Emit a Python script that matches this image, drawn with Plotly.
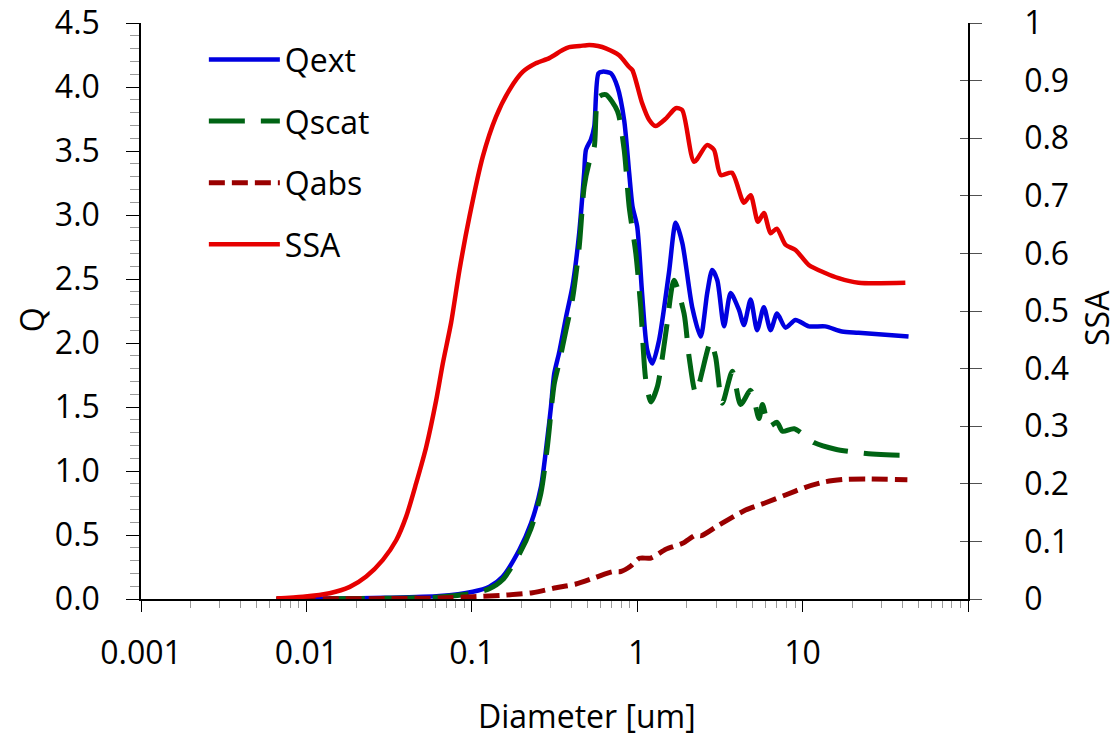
import plotly.graph_objects as go

# Particle diameter (um) and efficiencies for each series
d_qext = [0.0066, 0.015, 0.030, 0.0637, 0.1014, 0.1276, 0.1535, 0.1935, 0.228, 0.262,
          0.287, 0.301, 0.315, 0.338, 0.371, 0.407, 0.446, 0.478, 0.49, 0.525,
          0.55, 0.583, 0.617, 0.693, 0.76, 0.834, 0.894, 0.936, 1.0, 1.07,
          1.15, 1.235, 1.355, 1.556, 1.71, 1.875, 2.15, 2.42, 2.65, 2.84,
          3.05, 3.35, 3.67, 4.12, 4.42, 4.85, 5.31, 5.83, 6.4, 7.01,
          7.88, 9.06, 10.9, 13.7, 17.3, 21.8, 43.7]
qext = [0.000, 0.003, 0.009, 0.023, 0.057, 0.096, 0.174, 0.383, 0.591, 0.877,
        1.268, 1.50, 1.76, 1.93, 2.20, 2.45, 2.86, 3.33, 3.51, 3.59,
        3.69, 4.107, 4.12, 4.107, 4.0, 3.74, 3.33, 3.07, 2.91, 2.39,
        1.945, 1.84, 2.02, 2.55, 2.94, 2.78, 2.28, 2.05, 2.39, 2.57,
        2.49, 2.13, 2.39, 2.26, 2.14, 2.34, 2.10, 2.28, 2.10, 2.23,
        2.12, 2.18, 2.13, 2.13, 2.09, 2.08, 2.05]

d_qscat = [0.0066, 0.030, 0.0637, 0.1014, 0.1276, 0.1535, 0.1935, 0.228, 0.262, 0.287,
           0.315, 0.338, 0.371, 0.407, 0.446, 0.478, 0.51, 0.55, 0.583, 0.646,
           0.76, 0.834, 0.894, 0.981, 1.05, 1.127, 1.21, 1.325, 1.49, 1.67,
           1.92, 2.06, 2.26, 2.78, 2.98, 3.27, 3.76, 4.22, 4.85, 5.45,
           5.72, 6.28, 7.0, 7.56, 8.9, 11.8, 15.8, 19.9, 26.3, 34.7, 45.0]
qscat = [0.000, 0.005, 0.015, 0.045, 0.08, 0.15, 0.35, 0.55, 0.83, 1.20,
         1.68, 1.85, 2.10, 2.35, 2.75, 3.22, 3.40, 3.53, 3.92, 3.94,
         3.81, 3.51, 3.065, 2.70, 2.28, 1.71, 1.54, 1.66, 2.08, 2.49,
         2.23, 1.89, 1.61, 2.01, 1.89, 1.53, 1.78, 1.52, 1.63, 1.41,
         1.52, 1.35, 1.38, 1.31, 1.33, 1.22, 1.17, 1.15, 1.133, 1.125, 1.123]

d_qabs = [0.0066, 0.030, 0.0637, 0.1014, 0.161, 0.233, 0.323, 0.426, 0.563, 0.708,
          0.796, 0.915, 1.03, 1.21, 1.49, 1.88, 2.26, 2.45, 3.12, 4.52,
          5.97, 7.88, 10.4, 13.7, 18.2, 25.1, 43.0]
qabs = [0.000, 0.003, 0.008, 0.018, 0.031, 0.049, 0.088, 0.117, 0.170, 0.213,
        0.215, 0.258, 0.318, 0.320, 0.388, 0.435, 0.500, 0.495, 0.578, 0.695,
        0.752, 0.8125, 0.873, 0.916, 0.935, 0.9375, 0.932]

d_ssa = [0.00659, 0.00954, 0.0138, 0.0183, 0.0230, 0.0290, 0.0349, 0.0401, 0.0461, 0.0530,
         0.0609, 0.0668, 0.075, 0.0842, 0.0968, 0.1165, 0.140, 0.169, 0.203, 0.244,
         0.294, 0.354, 0.388, 0.45, 0.513, 0.58, 0.646, 0.777, 0.891, 0.936,
         1.07, 1.18, 1.29, 1.49, 1.71, 1.87, 2.21, 2.64, 2.91, 3.2,
         3.74, 4.42, 4.85, 5.37, 5.84, 6.4, 6.98, 7.88, 9.06, 10.9,
         13.7, 16.5, 21.8, 41.8]
ssa = [0.001, 0.004, 0.010, 0.021, 0.039, 0.068, 0.102, 0.143, 0.201, 0.264,
       0.345, 0.409, 0.480, 0.571, 0.664, 0.768, 0.837, 0.884, 0.915, 0.930,
       0.939, 0.953, 0.958, 0.960, 0.962, 0.960, 0.956, 0.944, 0.924, 0.918,
       0.861, 0.832, 0.821, 0.834, 0.852, 0.849, 0.759, 0.788, 0.780, 0.736,
       0.740, 0.688, 0.701, 0.655, 0.670, 0.635, 0.643, 0.615, 0.606, 0.580,
       0.566, 0.557, 0.549, 0.549]

x_tickvals = [0.001, 0.01, 0.1, 1, 10, 100]
x_ticktext = ["0.001", "0.01", "0.1", "1", "10", ""]

FONT = "Open Sans, Noto Sans, sans-serif"
FS = 32

fig = go.Figure()

fig.add_trace(go.Scatter(x=d_qext, y=qext, name="Qext", mode="lines",
                         line=dict(color="#0000E0", width=4.5, shape="spline", smoothing=0.7),
                         legendgroup="a"))
fig.add_trace(go.Scatter(x=d_qscat, y=qscat, name="Qscat", mode="lines",
                         line=dict(color="#006414", width=5, dash="36px,16px",
                                   shape="spline", smoothing=0.7),
                         legendgroup="b"))
fig.add_trace(go.Scatter(x=d_qabs, y=qabs, name="Qabs", mode="lines",
                         line=dict(color="#990000", width=5, dash="16px,7px",
                                   shape="spline", smoothing=0.7),
                         legendgroup="c"))
fig.add_trace(go.Scatter(x=d_ssa, y=ssa, name="SSA", mode="lines", yaxis="y2",
                         line=dict(color="#E60000", width=4.5, shape="spline", smoothing=0.7),
                         legendgroup="d"))

minor_x = [m * 10.0 ** e for e in range(-3, 2) for m in range(2, 10)]

fig.update_layout(
    width=1120, height=738,
    margin=dict(l=141, r=152, t=23, b=139),
    paper_bgcolor="white", plot_bgcolor="white",
    font=dict(family=FONT, size=FS, color="black"),
    showlegend=True,
    legend=dict(x=0.076, y=0.984, xanchor="left", yanchor="top",
                bgcolor="rgba(0,0,0,0)", borderwidth=0,
                font=dict(family=FONT, size=FS, color="black"),
                itemwidth=71, traceorder="grouped", tracegroupgap=17),
    xaxis=dict(type="log", range=[-3, 2], automargin=False,
               tickmode="array", tickvals=x_tickvals, ticktext=x_ticktext,
               ticks="outside", ticklen=11, tickcolor="black", tickwidth=1,
               ticklabelstandoff=14,
               minor=dict(tickmode="array", tickvals=minor_x, ticks="outside",
                          ticklen=7, tickcolor="#9a9a9a", tickwidth=1, showgrid=False),
               showline=True, linecolor="black", linewidth=1.5,
               showgrid=False, zeroline=False,
               tickfont=dict(family=FONT, size=FS, color="black")),
    yaxis=dict(range=[0, 4.5], dtick=0.5, tickformat=".1f", automargin=False,
               ticks="outside", ticklen=13, tickcolor="black", tickwidth=1,
               ticklabelstandoff=20,
               minor=dict(dtick=0.1, ticks="outside", ticklen=9,
                          tickcolor="#9a9a9a", tickwidth=1, showgrid=False),
               showline=True, linecolor="black", linewidth=1.5,
               showgrid=False, zeroline=False,
               tickfont=dict(family=FONT, size=FS, color="black")),
    yaxis2=dict(overlaying="y", side="right", anchor="x", range=[0, 1], dtick=0.1,
                automargin=False, ticks="outside", ticklen=12, tickcolor="#505050",
                tickwidth=1, ticklabelstandoff=36,
                showline=True, linecolor="black", linewidth=1.5,
                showgrid=False, zeroline=False,
                tickfont=dict(family=FONT, size=FS, color="black")),
    yaxis3=dict(overlaying="y", side="right", anchor="x", range=[0, 1], dtick=0.1,
                automargin=False, ticks="inside", ticklen=8, tickcolor="#505050",
                tickwidth=1, showticklabels=False, showline=False,
                showgrid=False, zeroline=False),
    annotations=[
        dict(text="Diameter [um]", xref="paper", yref="paper", x=0.539, y=-0.2014,
             xanchor="center", yanchor="middle", showarrow=False,
             font=dict(family=FONT, size=FS, color="black")),
        dict(text="Q", xref="paper", yref="paper", x=-0.133, y=0.484,
             xanchor="center", yanchor="middle", textangle=-90, showarrow=False,
             font=dict(family=FONT, size=FS, color="black")),
        dict(text="SSA", xref="paper", yref="paper", x=1.156, y=0.488,
             xanchor="center", yanchor="middle", textangle=-90, showarrow=False,
             font=dict(family=FONT, size=FS, color="black")),
    ],
)

# invisible trace so the inside tick marks on the right axis are drawn
fig.add_trace(go.Scatter(x=[0.001], y=[0], yaxis="y3", mode="markers",
                         marker=dict(opacity=0), showlegend=False, hoverinfo="skip"))

fig.write_html("out.html")
